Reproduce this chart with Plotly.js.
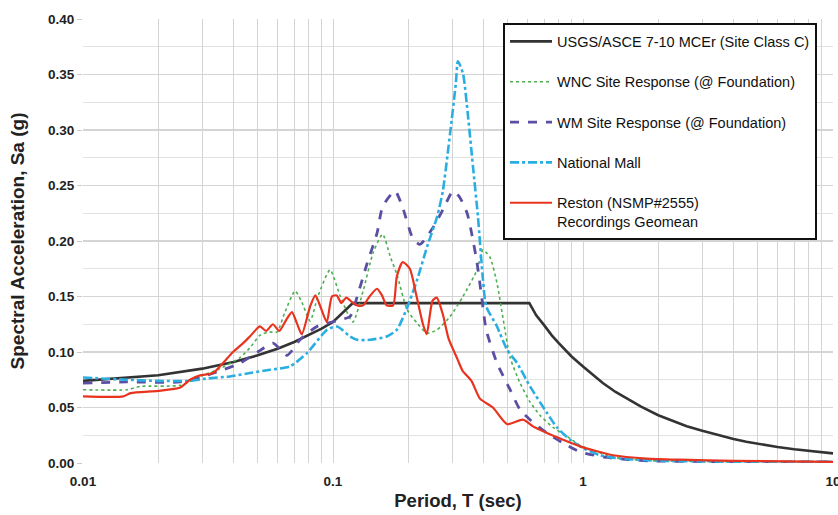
<!DOCTYPE html>
<html>
<head>
<meta charset="utf-8">
<script src="https://cdn.plot.ly/plotly-3.0.1.min.js"></script>
<style>html,body{margin:0;padding:0;background:#fff;}#chart{width:838px;height:515px;}</style>
</head>
<body>
<div id="chart"></div>
<script>
// ---- Data ----
const seriesNames = [
  "USGS/ASCE 7-10 MCEr (Site Class C)",
  "WNC Site Response (@ Foundation)",
  "WM Site Response (@ Foundation)",
  "National Mall",
  "Reston (NSMP#2555)<br>Recordings Geomean"
];

const usgsT  = [0.01,0.015,0.02,0.03,0.04,0.05,0.06,0.07,0.08,0.09,0.1,0.11,0.12,0.61,0.65,0.7,0.75,0.8,0.9,1.0,1.1,1.2,1.35,1.5,1.7,2,2.3,2.6,3,3.5,4,4.5,5,6,7,8,9,10];
const usgsSa = [0.074,0.077,0.079,0.085,0.091,0.097,0.103,0.109,0.115,0.121,0.127,0.136,0.144,0.144,0.133,0.124,0.115,0.108,0.096,0.087,0.079,0.072,0.064,0.058,0.051,0.043,0.0376,0.0332,0.029,0.0247,0.0216,0.0192,0.0173,0.0144,0.0124,0.0108,0.0096,0.0087];

const wncT  = [0.01,0.015,0.017,0.0245,0.0294,0.0353,0.0425,0.047,0.051,0.055,0.0597,0.064,0.0705,0.075,0.081,0.087,0.0973,0.107,0.12,0.132,0.145,0.158,0.17,0.18,0.198,0.217,0.238,0.261,0.294,0.331,0.377,0.398,0.425,0.453,0.479,0.511,0.56,0.614,0.673,0.759,0.863,0.973,1.17,1.41,2.0,4.0,10];
const wncSa = [0.066,0.066,0.069,0.070,0.078,0.085,0.095,0.105,0.115,0.118,0.118,0.135,0.155,0.145,0.128,0.150,0.174,0.150,0.127,0.155,0.190,0.206,0.185,0.170,0.138,0.126,0.117,0.120,0.132,0.150,0.174,0.192,0.185,0.162,0.130,0.095,0.072,0.055,0.043,0.032,0.024,0.016,0.009,0.004,0.002,0.0012,0.001];

const wmT  = [0.01,0.015,0.0244,0.0313,0.0363,0.0425,0.05,0.0575,0.0655,0.0738,0.0863,0.107,0.117,0.125,0.137,0.15,0.158,0.177,0.19,0.209,0.223,0.251,0.275,0.302,0.32,0.344,0.36,0.377,0.393,0.41,0.453,0.511,0.56,0.614,0.718,0.832,0.973,1.25,1.8,4.0,10];
const wmSa = [0.072,0.073,0.073,0.079,0.084,0.090,0.100,0.108,0.097,0.111,0.123,0.129,0.132,0.150,0.180,0.207,0.231,0.245,0.230,0.202,0.197,0.212,0.228,0.245,0.240,0.225,0.205,0.180,0.150,0.120,0.090,0.066,0.048,0.039,0.027,0.018,0.010,0.005,0.002,0.0012,0.001];

const mallT  = [0.01,0.015,0.02,0.0268,0.031,0.0387,0.0466,0.056,0.0673,0.0787,0.0946,0.1038,0.117,0.125,0.141,0.164,0.18,0.198,0.217,0.238,0.261,0.275,0.294,0.31,0.316,0.331,0.347,0.363,0.38,0.398,0.41,0.453,0.497,0.545,0.614,0.718,0.787,0.887,1.0,1.17,1.41,2.0,4.0,10];
const mallSa = [0.077,0.075,0.074,0.074,0.076,0.078,0.081,0.084,0.087,0.099,0.120,0.123,0.114,0.111,0.111,0.114,0.120,0.140,0.165,0.195,0.222,0.245,0.297,0.342,0.362,0.351,0.312,0.267,0.222,0.165,0.141,0.123,0.102,0.090,0.069,0.045,0.032,0.021,0.0135,0.007,0.004,0.002,0.0012,0.001];

const restonT  = [0.01,0.0145,0.0155,0.02,0.0245,0.0268,0.0294,0.0331,0.0363,0.0398,0.0437,0.0465,0.051,0.054,0.0575,0.061,0.065,0.0685,0.0717,0.075,0.081,0.085,0.089,0.0945,0.099,0.1035,0.108,0.113,0.119,0.125,0.132,0.14,0.15,0.157,0.164,0.174,0.18,0.19,0.203,0.215,0.229,0.237,0.25,0.26,0.275,0.29,0.314,0.33,0.358,0.387,0.436,0.497,0.575,0.631,0.718,0.832,0.973,1.32,1.8,2.44,4.0,10];
const restonSa = [0.060,0.060,0.063,0.065,0.068,0.075,0.079,0.081,0.090,0.100,0.108,0.114,0.123,0.119,0.125,0.119,0.129,0.136,0.126,0.116,0.141,0.151,0.141,0.127,0.150,0.151,0.144,0.149,0.145,0.142,0.142,0.150,0.157,0.151,0.142,0.142,0.168,0.181,0.175,0.152,0.125,0.116,0.146,0.149,0.134,0.112,0.094,0.083,0.074,0.058,0.050,0.035,0.039,0.033,0.027,0.021,0.015,0.007,0.004,0.003,0.002,0.001];

const xTickVals = [0.01,0.02,0.03,0.04,0.05,0.06,0.07,0.08,0.09,0.1,0.2,0.3,0.4,0.5,0.6,0.7,0.8,0.9,1,2,3,4,5,6,7,8,9,10];
const xTickText = ["0.01","","","","","","","","","0.1","","","","","","","","","1","","","","","","","","","10"];

// ---- Styles ----
const traces = [
  {x: usgsT, y: usgsSa, name: seriesNames[0], line: {color: "#333333", width: 2.6, dash: "solid", shape: "linear"}},
  {x: wncT, y: wncSa, name: seriesNames[1], line: {color: "#4caf50", width: 1.6, dash: "dot", shape: "spline", smoothing: 0.6}},
  {x: wmT, y: wmSa, name: seriesNames[2], line: {color: "#5a4fa3", width: 2.8, dash: "dash", shape: "spline", smoothing: 0.6}},
  {x: mallT, y: mallSa, name: seriesNames[3], line: {color: "#2aaee2", width: 2.6, dash: "dashdot", shape: "spline", smoothing: 0.6}},
  {x: restonT, y: restonSa, name: seriesNames[4], line: {color: "#e8341f", width: 2.2, dash: "solid", shape: "spline", smoothing: 0.6}}
].map((t, i) => Object.assign(t, {type: "scatter", mode: "lines", legendgroup: "g" + i}));

const gridCol = "#d4d4d4";
const tickFont = {size: 13.5, family: "Liberation Sans, Arial, sans-serif", weight: "bold", color: "#222"};
const layout = {
  width: 838, height: 515,
  margin: {l: 83, r: 5, t: 19, b: 52},
  paper_bgcolor: "#ffffff", plot_bgcolor: "#ffffff",
  font: {family: "Liberation Sans, Arial, sans-serif", color: "#222"},
  showlegend: true,
  legend: {
    x: 0.56, y: 0.99, xanchor: "left", yanchor: "top",
    bgcolor: "#ffffff", bordercolor: "#111", borderwidth: 2,
    font: {size: 14.5, color: "#111"},
    itemwidth: 42,
    traceorder: "grouped", tracegroupgap: 18.5, valign: "top"
  },
  xaxis: {
    type: "log", range: [-2, 1],
    tickvals: xTickVals, ticktext: xTickText,
    showgrid: true, gridcolor: gridCol, gridwidth: 1,
    ticks: "", zeroline: false, showline: false,
    tickfont: tickFont,
    ticklabelstandoff: 8, ticklabeloverflow: "allow",
    title: {text: "<b>Period, T (sec)</b>", font: {size: 18.5, color: "#222"}, standoff: 6}
  },
  yaxis: {
    range: [0, 0.4], dtick: 0.05, tickformat: ".2f",
    showgrid: true, gridcolor: gridCol, gridwidth: 1.3,
    minor: {dtick: 0.025, showgrid: true, gridcolor: "#e2e2e2", gridwidth: 1},
    ticks: "outside", ticklen: 5, tickcolor: "#cccccc",
    zeroline: false, showline: false,
    tickfont: tickFont,
    title: {text: "<b>Spectral Acceleration, Sa (g)</b>", font: {size: 19, color: "#222"}, standoff: 18}
  }
};

Plotly.newPlot("chart", traces, layout, {displayModeBar: false, staticPlot: true});
</script>
</body>
</html>
